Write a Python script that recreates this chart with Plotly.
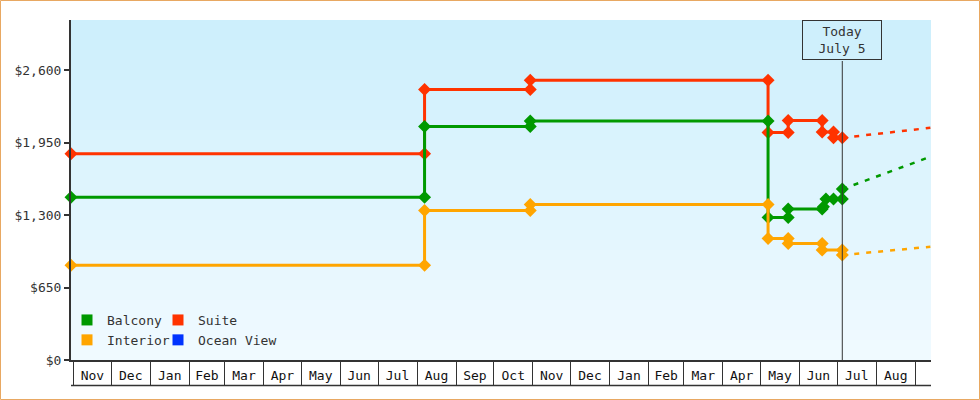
import plotly.graph_objects as go

# ---------------- data ----------------
suite_dates = ["2013-10-30", "2014-08-07", "2014-08-07", "2014-10-30", "2014-10-30",
               "2015-05-07", "2015-05-07", "2015-05-23", "2015-05-23", "2015-06-19",
               "2015-06-19", "2015-06-28", "2015-06-28", "2015-07-05"]
suite_vals = [1850, 1850, 2427, 2427, 2510, 2510, 2041, 2041, 2149, 2149, 2045, 2045, 1993, 1993]

balcony_dates = ["2013-10-30", "2014-08-07", "2014-08-07", "2014-10-30", "2014-10-30",
                 "2015-05-07", "2015-05-07", "2015-05-23", "2015-05-23", "2015-06-19",
                 "2015-06-20", "2015-06-22", "2015-06-28", "2015-07-05", "2015-07-05"]
balcony_vals = [1460, 1460, 2095, 2095, 2143, 2143, 1279, 1279, 1354, 1354, 1374, 1445, 1445, 1445, 1533]

interior_dates = ["2013-10-30", "2014-08-07", "2014-08-07", "2014-10-30", "2014-10-30",
                  "2015-05-07", "2015-05-07", "2015-05-23", "2015-05-23", "2015-06-19",
                  "2015-06-19", "2015-07-05", "2015-07-05"]
interior_vals = [850, 850, 1342, 1342, 1396, 1396, 1091, 1091, 1046, 1046, 986, 986, 941]

proj_dates = ["2015-07-05", "2015-09-13"]
suite_proj = [1993, 2083]
balcony_proj = [1533, 1823]
interior_proj = [941, 1016]

today = "2015-07-05"
today_label = "Today<br>July 5"

y_ticks = [0, 650, 1300, 1950, 2600]
y_tick_labels = ["$" + f"{v:,}" for v in y_ticks]
x_range = ["2013-10-30", "2015-09-13 12:00"]
y_range = [0, 3050]

colors = {"Balcony": "#009900", "Suite": "#FF3300", "Interior": "#FFA500", "Ocean View": "#0033FF"}

FONT = "DejaVu Sans Mono"
TXT = "#333333"

# ---------------- figure ----------------
fig = go.Figure()

def add_series(name, xs, ys, px, py):
    c = colors[name]
    fig.add_trace(go.Scatter(x=px, y=py, mode="lines", showlegend=False, hoverinfo="skip",
                             line=dict(color=c, width=2.5, dash="5px,7px")))
    fig.add_trace(go.Scatter(x=xs, y=ys, mode="lines+markers", name=name, showlegend=False,
                             line=dict(color=c, width=3),
                             marker=dict(symbol="diamond", size=10, color=c),
                             cliponaxis=False))

add_series("Suite", suite_dates, suite_vals, proj_dates, suite_proj)
add_series("Balcony", balcony_dates, balcony_vals, proj_dates, balcony_proj)
add_series("Interior", interior_dates, interior_vals, proj_dates, interior_proj)

# legend-only entries
for name, lg in [("Balcony", "legend"), ("Interior", "legend"), ("Suite", "legend2"), ("Ocean View", "legend2")]:
    fig.add_trace(go.Scatter(x=[None], y=[None], mode="markers", name=name, legend=lg,
                             marker=dict(symbol="square", size=11, color=colors[name])))

# gradient background
shapes = []
N = 34
top = (204, 239, 252)
bot = (241, 250, 255)
for i in range(N):
    t = (i + 0.5) / N
    r = round(top[0] + (bot[0] - top[0]) * t)
    g = round(top[1] + (bot[1] - top[1]) * t)
    b = round(top[2] + (bot[2] - top[2]) * t)
    shapes.append(dict(type="rect", xref="paper", yref="paper", x0=0, x1=1,
                       y0=1 - (i + 1) / N, y1=1 - i / N, layer="below",
                       fillcolor=f"rgb({r},{g},{b})", line=dict(width=0)))

W, H = 980, 400
ML, MR, MT, MB = 71, 49, 20, 40
PW, PH = W - ML - MR, H - MT - MB

# bottom line of the month boxes
shapes.append(dict(type="line", xref="paper", yref="paper", x0=0, x1=1,
                   y0=-25.5 / PH, y1=-25.5 / PH, line=dict(color=TXT, width=1.5)))
# today line
shapes.append(dict(type="line", xref="x", yref="paper", x0=today, x1=today,
                   y0=0, y1=(PH - 41) / PH, line=dict(color=TXT, width=1)))
# outer border
shapes.append(dict(type="rect", xref="paper", yref="paper",
                   x0=(0.5 - ML) / PW, x1=(W - 0.5 - ML) / PW,
                   y0=-(MB - 0.5) / PH, y1=(PH + MT - 0.5) / PH,
                   line=dict(color="#E8A862", width=1), fillcolor="rgba(0,0,0,0)"))

fig.update_layout(
    width=W, height=H,
    margin=dict(l=ML, r=MR, t=MT, b=MB),
    paper_bgcolor="white", plot_bgcolor="white",
    font=dict(family=FONT, size=13, color=TXT),
    shapes=shapes,
    legend=dict(x=(67 - ML) / PW, y=(360 - 305) / PH, xanchor="left", yanchor="top",
                bgcolor="rgba(0,0,0,0)", itemwidth=30, tracegroupgap=0,
                font=dict(family=FONT, size=13, color=TXT)),
    legend2=dict(x=(158 - ML) / PW, y=(360 - 305) / PH, xanchor="left", yanchor="top",
                 bgcolor="rgba(0,0,0,0)", itemwidth=30, tracegroupgap=0,
                 font=dict(family=FONT, size=13, color=TXT)),
    annotations=[dict(x=today, xref="x", y=1, yref="paper", xanchor="center", yanchor="top",
                      text=today_label, showarrow=False, align="center",
                      bordercolor=TXT, borderwidth=1, borderpad=2, width=74, height=34,
                      font=dict(family=FONT, size=13, color=TXT))],
    xaxis=dict(type="date", range=x_range, showgrid=False, zeroline=False,
               showline=True, linecolor=TXT, linewidth=2,
               ticks="outside", ticklen=24, tickwidth=1, tickcolor=TXT,
               dtick="M1", tick0="2013-11-01", tickformat="%b", ticklabelmode="period",
               ticklabelstandoff=-22,
               tickfont=dict(family=FONT, size=13, color="#111111")),
    yaxis=dict(range=y_range, showgrid=False, zeroline=False,
               showline=True, linecolor=TXT, linewidth=2,
               ticks="outside", ticklen=5, tickwidth=2, tickcolor=TXT,
               tickmode="array", tickvals=y_ticks, ticktext=y_tick_labels,
               tickfont=dict(family=FONT, size=13, color=TXT)),
)

fig.write_html("out.html", config={"displayModeBar": False},
               post_script="document.body.style.margin='0';document.body.style.overflow='hidden';")
